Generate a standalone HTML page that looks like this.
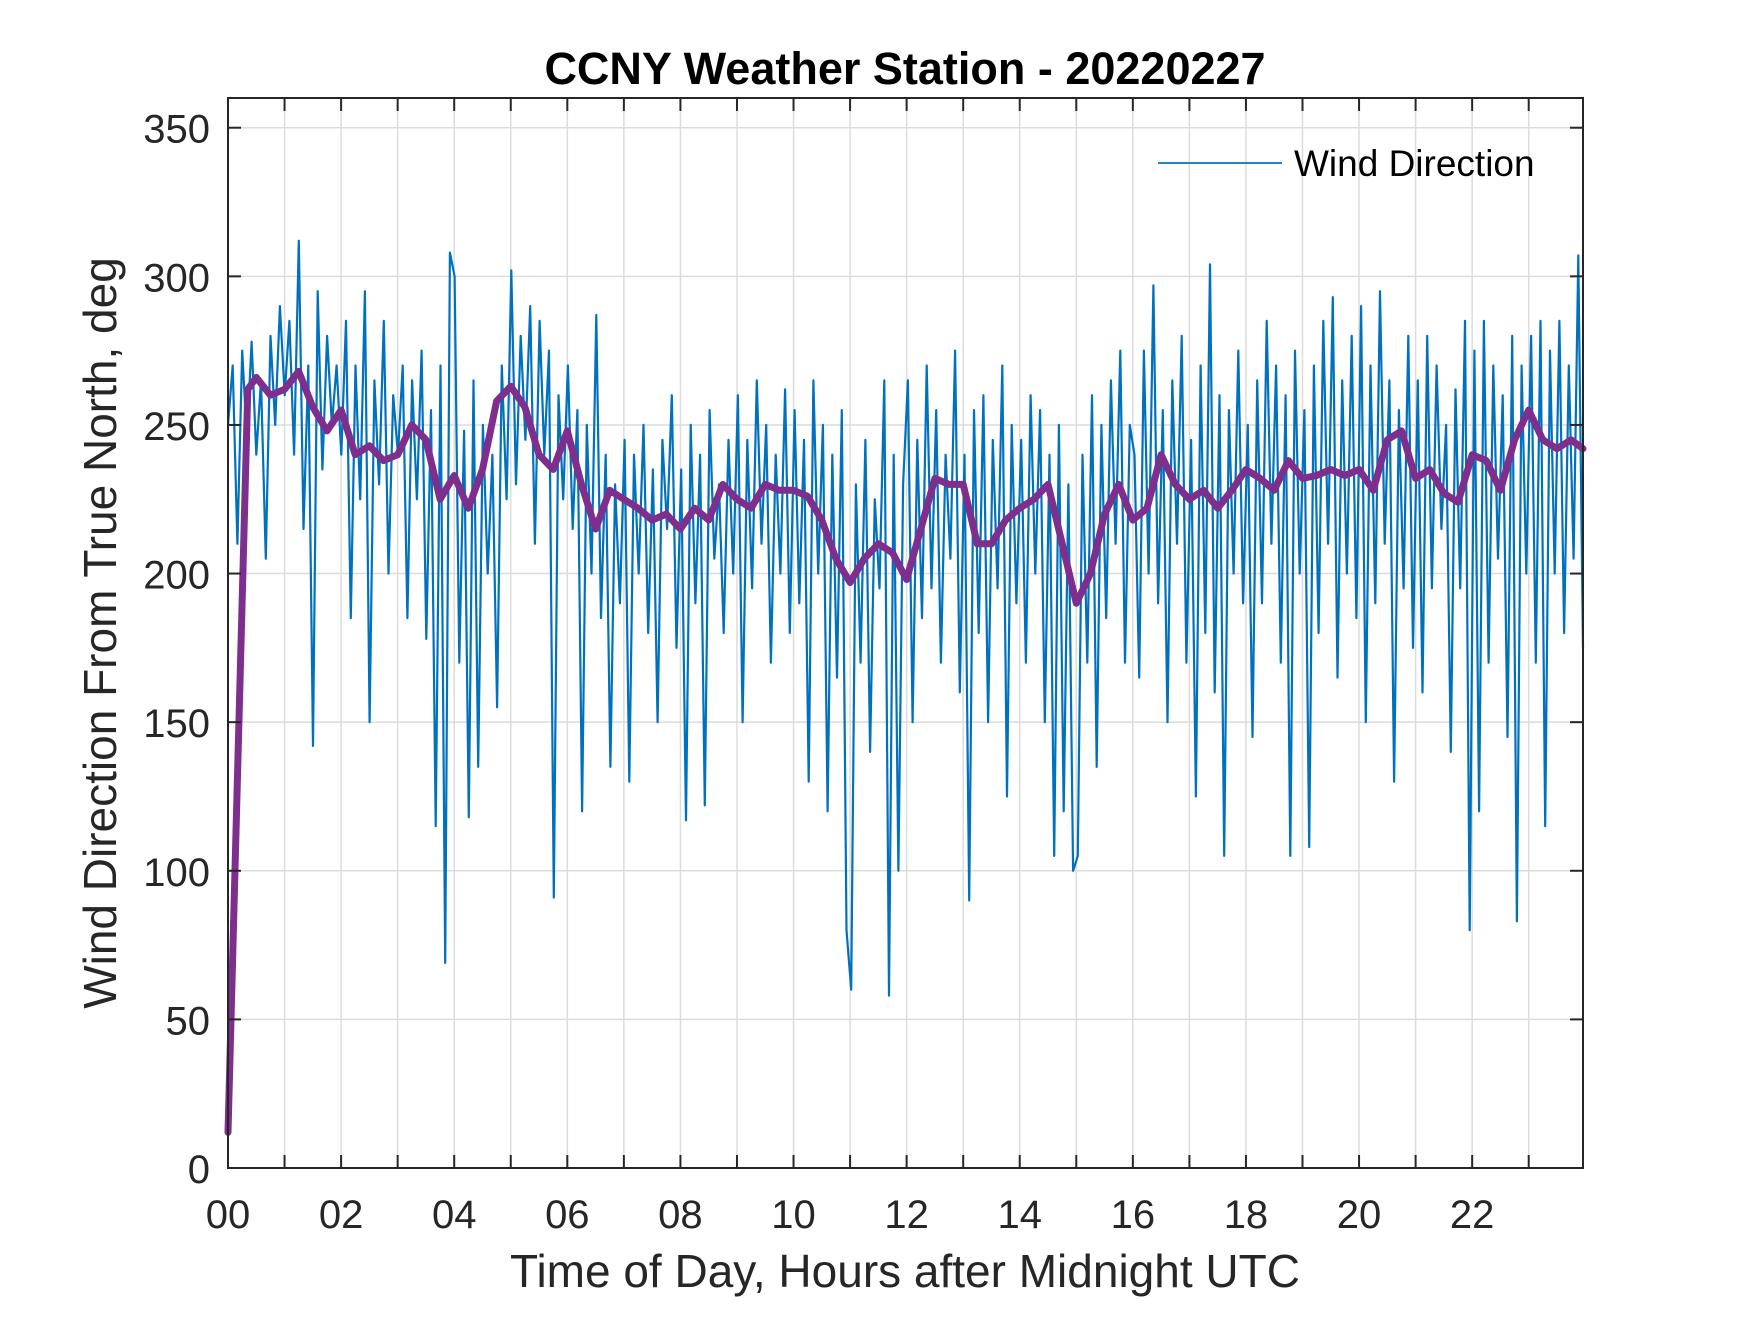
<!DOCTYPE html>
<html><head><meta charset="utf-8"><style>
html,body{margin:0;padding:0;background:#fff;}
svg text{font-family:"Liberation Sans",Arial,sans-serif;fill:#262626;}
</style></head><body>
<svg id="chart" width="1750" height="1313" viewBox="0 0 1750 1313" xmlns="http://www.w3.org/2000/svg">
<rect x="0" y="0" width="1750" height="1313" fill="#fff"/>
<g id="grid"></g>
<g id="series"></g>
<g id="axes"></g>
<text x="905" y="84" text-anchor="middle" font-size="45" font-weight="bold" style="fill:#000">CCNY Weather Station - 20220227</text>
<text x="905" y="1287" text-anchor="middle" font-size="46">Time of Day, Hours after Midnight UTC</text>
<text transform="translate(116,633) rotate(-90)" text-anchor="middle" font-size="46">Wind Direction From True North, deg</text>
<g>
<line x1="1158" y1="163" x2="1282" y2="163" stroke="#0072BD" stroke-width="1.8"/>
<text x="1294" y="176" font-size="37" style="fill:#000">Wind Direction</text>
</g>
</svg>
<script>
const xTicks = [0,2,4,6,8,10,12,14,16,18,20,22];
const xTickLabels = ["00","02","04","06","08","10","12","14","16","18","20","22"];
const yTicks = [0,50,100,150,200,250,300,350];
const windDir = [
250,270,210,275,245,278,240,265,205,280,250,290,
260,285,240,312,215,270,142,295,235,280,250,270,
240,285,185,270,225,295,150,265,230,285,200,260,
240,270,185,265,225,275,178,255,115,270,69,308,
300,170,248,118,265,135,250,200,240,155,270,225,
302,230,280,245,290,210,285,240,275,91,260,225,
270,215,255,120,250,200,287,185,240,135,230,190,
245,130,240,200,250,180,235,150,245,215,260,175,
235,117,250,190,240,122,255,205,230,180,245,200,
260,150,245,195,265,210,250,170,240,200,262,180,
255,190,245,130,265,200,250,120,240,165,255,80,
60,230,170,245,140,225,195,265,58,240,100,230,
265,150,245,185,270,195,255,170,240,205,275,160,
240,90,255,180,260,150,245,195,270,125,250,190,
245,170,260,200,255,150,240,105,250,120,230,100,
105,240,170,260,135,250,185,265,210,275,170,250,
240,165,275,200,297,190,255,150,265,210,280,170,
245,125,270,180,304,160,260,105,255,200,275,190,
250,145,265,190,285,210,270,170,260,105,275,200,
255,108,270,180,285,210,293,165,265,200,280,185,
290,150,270,190,295,210,265,130,255,195,280,175,
265,160,280,195,270,215,250,140,262,195,285,80,
275,120,285,170,270,205,260,145,280,83,270,200,
280,170,285,115,275,200,285,180,270,205,307,175];
const trendHours = [0,0.35,0.5,0.75,1,1.25,1.5,1.75,2,2.25,2.5,2.75,3,3.25,3.5,3.75,4,4.25,4.5,4.75,5,5.25,5.5,5.75,6,6.25,6.5,6.75,7,7.25,7.5,7.75,8,8.25,8.5,8.75,9,9.25,9.5,9.75,10,10.25,10.5,10.75,11,11.25,11.5,11.75,12,12.25,12.5,12.75,13,13.25,13.5,13.75,14,14.25,14.5,14.75,15,15.25,15.5,15.75,16,16.25,16.5,16.75,17,17.25,17.5,17.75,18,18.25,18.5,18.75,19,19.25,19.5,19.75,20,20.25,20.5,20.75,21,21.25,21.5,21.75,22,22.25,22.5,22.75,23,23.25,23.5,23.75,23.96];
const trendValues = [12,262,266,260,262,268,256,248,255,240,243,238,240,250,245,225,233,222,235,258,263,256,240,235,248,230,215,228,225,222,218,220,215,222,218,230,225,222,230,228,228,226,218,205,197,205,210,207,198,215,232,230,230,210,210,218,222,225,230,210,190,200,220,230,218,222,240,230,225,228,222,228,235,232,228,238,232,233,235,233,235,228,245,248,232,235,227,224,240,238,228,245,255,245,242,245,242];

const X0=228,X1=1583,Y0=1168,Y1=98,XMAX=23.96,YMAX=360;
const xs=h=>X0+(h/XMAX)*(X1-X0);
const ys=v=>Y0-(v/YMAX)*(Y0-Y1);
const NS="http://www.w3.org/2000/svg";
function mk(tag,attrs,parent){const e=document.createElementNS(NS,tag);for(const k in attrs)e.setAttribute(k,attrs[k]);parent.appendChild(e);return e;}
const grid=document.getElementById('grid'),series=document.getElementById('series'),axes=document.getElementById('axes');
for(let h=1;h<24;h++){const l=mk('line',{x1:xs(h),x2:xs(h),y1:Y1,y2:Y0,stroke:'#dcdcdc','stroke-width':1.5},grid);

}
yTicks.forEach(v=>{if(v===0)return;const l=mk('line',{x1:X0,x2:X1,y1:ys(v),y2:ys(v),stroke:'#dcdcdc','stroke-width':1.5},grid);

});
const n=windDir.length;
let d='';windDir.forEach((v,i)=>{const h=i*XMAX/(n-1);d+=(i?'L':'M')+xs(h).toFixed(1)+' '+ys(v).toFixed(1);});
const p=mk('path',{d:d,fill:'none',stroke:'#0072BD','stroke-width':2.2,'stroke-linejoin':'round'},series);


let d2='';trendValues.forEach((v,i)=>{d2+=(i?'L':'M')+xs(trendHours[i]).toFixed(1)+' '+ys(v).toFixed(1);});
const p2=mk('path',{d:d2,fill:'none',stroke:'#7E2F8E','stroke-width':7,'stroke-linejoin':'round','stroke-linecap':'round'},series);


const box=mk('rect',{x:X0,y:Y1,width:X1-X0,height:Y0-Y1,fill:'none',stroke:'#262626','stroke-width':2},axes);


for(let h=1;h<24;h++){mk('line',{x1:xs(h),x2:xs(h),y1:Y0,y2:Y0-13,stroke:'#262626','stroke-width':2},axes);mk('line',{x1:xs(h),x2:xs(h),y1:Y1,y2:Y1+13,stroke:'#262626','stroke-width':2},axes);}
xTicks.forEach((h,i)=>{const t=mk('text',{x:xs(h),y:1228,'text-anchor':'middle','font-size':40},axes);t.textContent=xTickLabels[i];

});
yTicks.forEach(v=>{mk('line',{x1:X0,x2:X0+13,y1:ys(v),y2:ys(v),stroke:'#262626','stroke-width':2},axes);mk('line',{x1:X1,x2:X1-13,y1:ys(v),y2:ys(v),stroke:'#262626','stroke-width':2},axes);
const t=mk('text',{x:210,y:ys(v)+15,'text-anchor':'end','font-size':40},axes);t.textContent=String(v);

});
</script>
</body></html>
